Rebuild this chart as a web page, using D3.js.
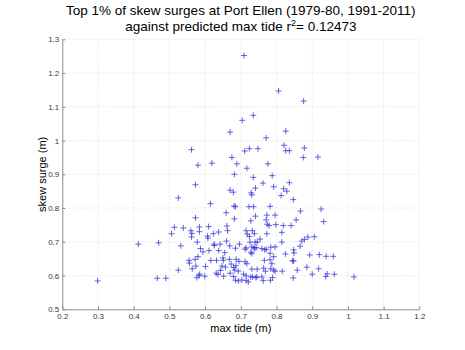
<!DOCTYPE html>
<html>
<head>
<meta charset="utf-8">
<script src="https://cdn.jsdelivr.net/npm/d3@7"></script>
<style>
  html, body { margin: 0; padding: 0; background: #fff; }
  svg { display: block; font-family: "Liberation Sans", Arial, Helvetica, sans-serif; }
</style>
</head>
<body>
<svg id="chart" width="465" height="350"></svg>
<script>
// Predicted max tide (m) for each of the top 1% skew surge events
const maxTide = [
  0.709, 0.806, 0.876, 0.735, 0.704, 0.670, 0.826, 0.771, 0.821, 0.826,
  0.836, 0.878, 0.875, 0.916, 0.724, 0.711, 0.748, 0.675, 0.689, 0.717,
  0.776, 0.562, 0.580, 0.619, 0.682, 0.735, 0.788, 0.762, 0.836, 0.792,
  0.820, 0.829, 0.813, 0.729, 0.731, 0.670, 0.679, 0.741, 0.847, 0.573,
  0.525, 0.615, 0.681, 0.685, 0.723, 0.736, 0.782, 0.867, 0.925, 0.932,
  0.659, 0.573, 0.682, 0.741, 0.773, 0.796, 0.855, 0.728, 0.771, 0.774,
  0.798, 0.779, 0.819, 0.841, 0.514, 0.539, 0.584, 0.610, 0.661, 0.560,
  0.563, 0.584, 0.562, 0.506, 0.607, 0.608, 0.623, 0.638, 0.663, 0.715,
  0.718, 0.732, 0.738, 0.724, 0.773, 0.815, 0.906, 0.888, 0.878, 0.871,
  0.866, 0.413, 0.470, 0.532, 0.578, 0.660, 0.587, 0.625, 0.626, 0.642,
  0.638, 0.611, 0.594, 0.669, 0.685, 0.655, 0.580, 0.555, 0.556, 0.572,
  0.616, 0.632, 0.650, 0.651, 0.668, 0.687, 0.564, 0.574, 0.601, 0.647,
  0.657, 0.680, 0.683, 0.525, 0.643, 0.585, 0.583, 0.577, 0.599, 0.631,
  0.636, 0.652, 0.670, 0.680, 0.685, 0.466, 0.490, 0.299, 0.696, 0.715,
  0.712, 0.726, 0.746, 0.740, 0.754, 0.815, 0.731, 0.737, 0.739, 0.743,
  0.728, 0.731, 0.759, 0.767, 0.771, 0.784, 0.796, 0.782, 0.792, 0.825,
  0.848, 0.849, 0.845, 0.848, 0.673, 0.686, 0.695, 0.712, 0.717, 0.766,
  0.782, 0.787, 0.731, 0.746, 0.693, 0.764, 0.769, 0.784, 0.792, 0.796,
  0.708, 0.715, 0.728, 0.733, 0.742, 0.745, 0.759, 0.789, 0.783, 0.693,
  0.703, 0.715, 0.721, 0.763, 0.816, 0.858, 0.847, 0.893, 0.920, 0.939,
  0.959, 0.885, 0.918, 0.900, 0.942, 0.938, 0.962, 1.017
];

// Skew surge (m) for the same events
const skewSurge = [
  1.252, 1.147, 1.117, 1.075, 1.060, 1.025, 1.028, 1.008, 0.986, 0.970,
  0.970, 0.978, 0.950, 0.951, 0.976, 0.969, 0.976, 0.950, 0.931, 0.918,
  0.931, 0.973, 0.927, 0.933, 0.900, 0.891, 0.896, 0.874, 0.875, 0.863,
  0.857, 0.850, 0.837, 0.845, 0.839, 0.853, 0.847, 0.859, 0.825, 0.869,
  0.830, 0.813, 0.806, 0.804, 0.804, 0.804, 0.805, 0.791, 0.797, 0.760,
  0.786, 0.771, 0.768, 0.776, 0.779, 0.779, 0.765, 0.762, 0.765, 0.752,
  0.751, 0.748, 0.748, 0.748, 0.743, 0.741, 0.744, 0.745, 0.747, 0.733,
  0.725, 0.730, 0.714, 0.724, 0.717, 0.711, 0.724, 0.729, 0.733, 0.733,
  0.723, 0.733, 0.724, 0.716, 0.724, 0.728, 0.715, 0.714, 0.707, 0.702,
  0.687, 0.693, 0.697, 0.688, 0.699, 0.702, 0.680, 0.693, 0.689, 0.693,
  0.674, 0.674, 0.670, 0.688, 0.681, 0.668, 0.656, 0.645, 0.637, 0.648,
  0.645, 0.645, 0.652, 0.645, 0.648, 0.648, 0.620, 0.628, 0.627, 0.628,
  0.625, 0.624, 0.616, 0.616, 0.615, 0.604, 0.600, 0.594, 0.598, 0.607,
  0.603, 0.598, 0.607, 0.597, 0.586, 0.592, 0.592, 0.584, 0.693, 0.682,
  0.678, 0.699, 0.699, 0.699, 0.708, 0.699, 0.685, 0.683, 0.679, 0.683,
  0.669, 0.665, 0.680, 0.676, 0.678, 0.684, 0.685, 0.666, 0.656, 0.664,
  0.676, 0.667, 0.644, 0.643, 0.634, 0.629, 0.642, 0.641, 0.635, 0.645,
  0.647, 0.635, 0.619, 0.619, 0.613, 0.622, 0.613, 0.620, 0.616, 0.613,
  0.604, 0.599, 0.596, 0.596, 0.594, 0.596, 0.596, 0.594, 0.586, 0.584,
  0.587, 0.585, 0.581, 0.585, 0.613, 0.616, 0.593, 0.661, 0.662, 0.657,
  0.657, 0.625, 0.620, 0.604, 0.605, 0.597, 0.604, 0.596
];

const xTicks = [0.2, 0.3, 0.4, 0.5, 0.6, 0.7, 0.8, 0.9, 1.0, 1.1, 1.2];
const xTickLabels = ["0.2", "0.3", "0.4", "0.5", "0.6", "0.7", "0.8", "0.9", "1", "1.1", "1.2"];
const yTicks = [0.5, 0.6, 0.7, 0.8, 0.9, 1.0, 1.1, 1.2, 1.3];
const yTickLabels = ["0.5", "0.6", "0.7", "0.8", "0.9", "1", "1.1", "1.2", "1.3"];

const titleLine1 = "Top 1% of skew surges at Port Ellen (1979-80, 1991-2011)";
const titleLine2a = "against predicted max tide r";
const titleLine2b = "= 0.12473";
const xLabel = "max tide (m)";
const yLabel = "skew surge (m)";

const points = maxTide.map((v, i) => ({ x: v, y: skewSurge[i] }));

const svg = d3.select("#chart");
const plotL = 62.3, plotR = 419.3, plotT = 39.3, plotB = 309.3;

const xScale = d3.scaleLinear().domain([0.2, 1.2]).range([plotL, plotR]);
const yScale = d3.scaleLinear().domain([0.5, 1.3]).range([plotB, plotT]);

// dotted grid
const grid = svg.append("g").attr("stroke", "#dcdcdc").attr("stroke-width", 0.8)
  .attr("stroke-dasharray", "1,1.5");
grid.selectAll("line.v").data(xTicks.slice(1)).join("line").attr("class", "v")
  .attr("x1", d => xScale(d)).attr("x2", d => xScale(d))
  .attr("y1", plotT).attr("y2", plotB);
grid.selectAll("line.h").data(yTicks.slice(1)).join("line").attr("class", "h")
  .attr("x1", plotL).attr("x2", plotR)
  .attr("y1", d => yScale(d)).attr("y2", d => yScale(d));

// axes with inward ticks
const xAxis = d3.axisBottom(xScale).tickValues(xTicks)
  .tickFormat((d, i) => xTickLabels[i]).tickSizeInner(-3).tickSizeOuter(0).tickPadding(4);
const yAxis = d3.axisLeft(yScale).tickValues(yTicks)
  .tickFormat((d, i) => yTickLabels[i]).tickSizeInner(-3).tickSizeOuter(0).tickPadding(3);

const gx = svg.append("g").attr("transform", `translate(0,${plotB})`).call(xAxis);
const gy = svg.append("g").attr("transform", `translate(${plotL},0)`).call(yAxis);
[gx, gy].forEach(g => {
  g.select(".domain").attr("stroke", "#8c8c8c").attr("stroke-width", 1);
  g.selectAll(".tick line").attr("stroke", "#8c8c8c");
  g.selectAll(".tick text").attr("fill", "#3a3a3a")
    .style("font-family", "'Liberation Sans', Arial, sans-serif").style("font-size", "8px");
});

// '+' markers
const arm = 3;
const marks = svg.append("g").attr("stroke", "#2b2bd9").attr("stroke-width", 0.9)
  .attr("stroke-opacity", 0.8);
marks.selectAll("path").data(points).join("path")
  .attr("d", d => {
    const px = xScale(d.x), py = yScale(d.y);
    return `M${px - arm},${py}H${px + arm}M${px},${py - arm}V${py + arm}`;
  });

// titles
svg.append("text").attr("x", 240.8).attr("y", 15)
  .attr("text-anchor", "middle").attr("font-size", 13.5).attr("fill", "#000")
  .text(titleLine1);
const t2 = svg.append("text").attr("x", 240.8).attr("y", 31)
  .attr("text-anchor", "middle").attr("font-size", 13.5).attr("fill", "#000");
t2.append("tspan").text(titleLine2a);
t2.append("tspan").attr("dy", -5).attr("font-size", 9).text("2");
t2.append("tspan").attr("dy", 5).text(titleLine2b);

// axis labels
svg.append("text").attr("x", (plotL + plotR) / 2).attr("y", 332)
  .attr("text-anchor", "middle").attr("font-size", 11).attr("fill", "#000")
  .text(xLabel);
svg.append("text")
  .attr("transform", `translate(46,${(plotT + plotB) / 2}) rotate(-90)`)
  .attr("text-anchor", "middle").attr("font-size", 11).attr("fill", "#000")
  .text(yLabel);
</script>
</body>
</html>
